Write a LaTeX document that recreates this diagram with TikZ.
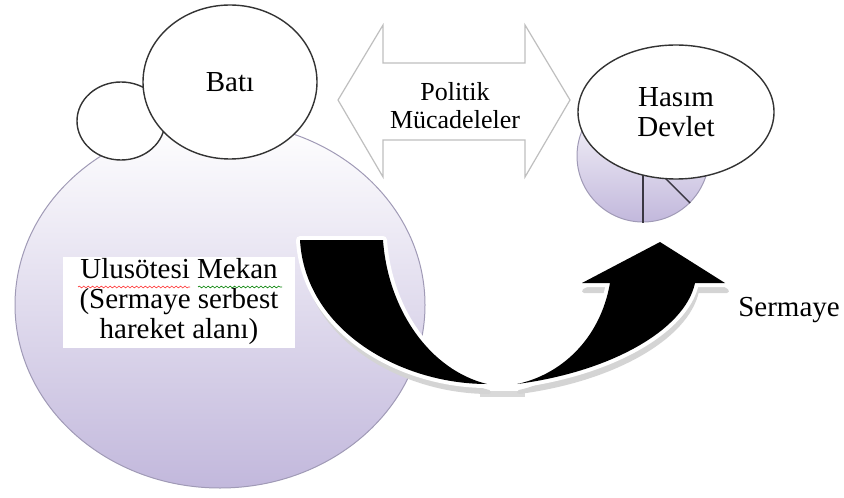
\documentclass[tikz,border=0pt]{standalone}
\usepackage{fontspec}
\setmainfont{Liberation Serif}
\usetikzlibrary{shapes.geometric, decorations.pathmorphing}
\definecolor{lilac}{RGB}{194,184,220}
\definecolor{lilacline}{RGB}{160,154,182}

\begin{document}
\begin{tikzpicture}[
  x=0.5pt, y=-0.5pt,
  every node/.style={font=\fontsize{14.5}{15}\selectfont, align=center, inner sep=0pt},
  bubble/.style={draw=black!80, fill=white, line width=0.7pt},
  lilacdisc/.style={draw=lilacline, top color=white, bottom color=lilac, line width=0.5pt},
  hollow/.style={draw=black!25, fill=white, line width=0.6pt},
  band/.style={fill=black, preaction={draw=white, line width=4pt, line join=round}},
  bandshadow/.style={fill=black!17, draw=black!17, line width=2pt, line join=round, xshift=1pt, yshift=-4pt},
  spell/.style={decorate, decoration={snake, amplitude=0.45pt, segment length=2.2pt}, line width=0.3pt}
]
\useasboundingbox (0,0) rectangle (844,497);

% big space
\node[lilacdisc, ellipse, minimum width=205pt, minimum height=183pt] (west) at (220,305) {};
\node[fill=white, minimum width=116pt, minimum height=45.5pt] (mekan) at (179,302)
  {Ulusötesi Mekan\\(Sermaye serbest\\hareket alanı)};
\draw[spell, red!80] (78,287) -- (190,287);
\draw[spell, green!50!black] (198,287) -- (282,287);

% cloud
\node[bubble, ellipse, minimum width=44pt, minimum height=39pt] (puff) at (121,121) {};
\node[bubble, ellipse, minimum width=87pt, minimum height=77pt] (bati) at (230,82) {Batı};

% rival
\node[lilacdisc, circle, minimum size=66pt] (disc) at (643,156) {};
\draw[black!70!lilac, line width=0.7pt] (disc.center) -- (disc.south);
\draw[black!70!lilac, line width=0.7pt] (disc.center) -- (disc.south east);
\node[bubble, ellipse, minimum width=98pt, minimum height=67pt] (hasim) at (676,112) {Hasım\\Devlet};

% politics
\draw[hollow] (338,100) -- (383,25) -- (383,63) -- (525,63) -- (525,25) -- (570,100)
  -- (525,177) -- (525,140) -- (383,140) -- (383,177) -- cycle;
\node[font=\fontsize{13}{14}\selectfont] (politik) at (455,106) {Politik\\Mücadeleler};

% capital
\fill[black!15] (480,391) rectangle (525,397);
\path[bandshadow] (300,240) -- (383,240) .. controls (388,310) and (430,370) .. (487,384)
  .. controls (400,384) and (305,330) .. (300,240) -- cycle;
\path[bandshadow] (517,384) .. controls (610,372) and (685,330) .. (695,283) -- (725,283)
  -- (660,242) -- (582,283) -- (610,283) .. controls (600,340) and (560,375) .. (517,384) -- cycle;
\path[band] (300,240) -- (383,240) .. controls (388,310) and (430,370) .. (487,384)
  .. controls (400,384) and (305,330) .. (300,240) -- cycle;
\path[band] (517,384) .. controls (610,372) and (685,330) .. (695,283) -- (725,283)
  -- (660,242) -- (582,283) -- (610,283) .. controls (600,340) and (560,375) .. (517,384) -- cycle;
\node (sermaye) at (789,310) {Sermaye};
\end{tikzpicture}
\end{document}
